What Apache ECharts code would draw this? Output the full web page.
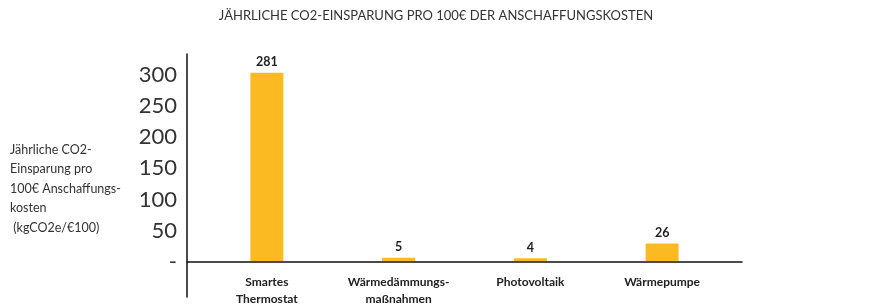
<!DOCTYPE html>
<html><head><meta charset="utf-8">
<script src="https://cdn.jsdelivr.net/npm/echarts@6/dist/echarts.min.js"></script>
<style>html,body{margin:0;padding:0;background:#fff}#c{width:872px;height:308px}</style>
</head><body><div id="c"></div>
<script>
var categories = ['Smartes\nThermostat', 'Wärmedämmungs-\nmaßnahmen', 'Photovoltaik', 'Wärmepumpe'];
var values = [281, 5, 4, 26];
var tickValues = [0, 50, 100, 150, 200, 250, 300];
var titleText = 'JÄHRLICHE CO2-EINSPARUNG PRO 100€ DER ANSCHAFFUNGSKOSTEN';
var yName = 'Jährliche CO2-\nEinsparung pro\n100€ Anschaffungs-\nkosten\n (kgCO2e/€100)';

var chart = echarts.init(document.getElementById('c'), null, {renderer: 'canvas'});
chart.setOption({
  animation: false,
  textStyle: {fontFamily: 'Lato'},
  title: [
    {text: titleText, left: 'center', top: 4,
     textStyle: {fontFamily: 'Lato', fontSize: 13, fontWeight: 'normal', color: '#333'}},
    {text: yName, left: 5, top: 135,
     textStyle: {fontFamily: 'Lato', fontSize: 12.5, fontWeight: 'normal', color: '#333', lineHeight: 19.5}}
  ],
  grid: [
    {left: 201, right: 144, top: 60, bottom: 47},
    {left: 187, right: 130, top: 54, bottom: 11}
  ],
  xAxis: [
    {type: 'category', gridIndex: 0, data: categories,
     axisLine: {show: false}, axisTick: {show: false},
     axisLabel: {interval: 0, margin: 13, fontFamily: 'Lato', fontSize: 12, fontWeight: 'bold', color: '#222', lineHeight: 17}},
    {type: 'value', gridIndex: 1, min: 0, max: 1,
     axisLine: {show: true, onZero: true, lineStyle: {color: '#111', width: 1.5}},
     axisTick: {show: false}, axisLabel: {show: false}, splitLine: {show: false}}
  ],
  yAxis: [
    {type: 'value', gridIndex: 0, min: 0, max: 300,
     axisLine: {show: false}, axisTick: {show: false}, axisLabel: {show: false}, splitLine: {show: false}},
    {type: 'value', gridIndex: 1, min: -57, max: 334,
     axisLine: {show: true, lineStyle: {color: '#111', width: 1.5}},
     axisTick: {show: false}, splitLine: {show: false},
     axisLabel: {customValues: tickValues, margin: 10, fontFamily: 'Lato', fontSize: 22, color: '#333',
       formatter: function (v) { return v === 0 ? '-' : String(v); }}}
  ],
  series: [{
    type: 'bar', xAxisIndex: 0, yAxisIndex: 0, data: values,
    barWidth: 33,
    itemStyle: {color: '#FBBA22'},
    label: {show: true, position: 'top', distance: 4, fontFamily: 'Lato', fontSize: 12.5, fontWeight: 'bold', color: '#222'}
  }]
});
</script></body></html>
